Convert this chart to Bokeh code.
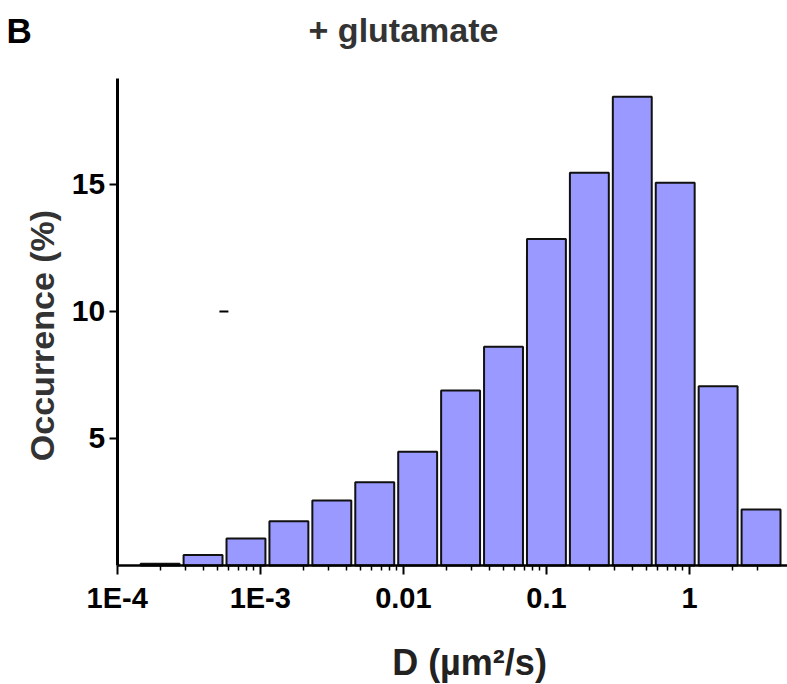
import math
from bokeh.plotting import figure
from bokeh.models import Range1d, FixedTicker, Label, ColumnDataSource
from bokeh.embed import file_html
from bokeh.resources import INLINE

# ---- data ----
bin_log10_centers = [-3.7, -3.4, -3.1, -2.8, -2.5, -2.2, -1.9, -1.6, -1.3, -1.0, -0.7, -0.4, -0.1, 0.2, 0.5]
occurrence_pct = [0.07, 0.41, 1.06, 1.74, 2.56, 3.28, 4.48, 6.89, 8.61, 12.85, 15.46, 18.45, 15.07, 7.06, 2.20]
bar_half_width_log10 = 0.136

x_major_ticks = [1e-4, 1e-3, 0.01, 0.1, 1]
x_major_labels = ["1E-4", "1E-3", "0.01", "0.1", "1"]
x_minor_mult = [2, 3, 4, 5, 6, 7, 8, 9]
y_ticks = [5, 10, 15]

artifact_x = [5.57e-4]
artifact_y = [10.0]

title_text = "+ glutamate"
panel_letter = "B"
x_label = "D (\u00b5m\u00b2/s)"
y_label = "Occurrence (%)"

# ---- geometry of the canvas ----
W, H = 787, 684
X_AXIS_MIN, X_AXIS_MAX = 1e-4, 4.84
Y_AXIS_MIN, Y_AXIS_MAX = 0.0, 19.17
# frame covers whole canvas; axes are placed at fixed locations inside it
frame_left_px, frame_bottom_px, frame_top_px = 116.7, 565.0, 78.0
px_per_decade = (W - frame_left_px) / math.log10(X_AXIS_MAX / X_AXIS_MIN)
px_per_unit = (frame_bottom_px - frame_top_px) / (Y_AXIS_MAX - Y_AXIS_MIN)
x_start = X_AXIS_MIN / 10 ** (frame_left_px / px_per_decade)
y_start = Y_AXIS_MIN - (H - frame_bottom_px) / px_per_unit
y_end = Y_AXIS_MIN + frame_bottom_px / px_per_unit

left = [10 ** (c - bar_half_width_log10) for c in bin_log10_centers]
right = [10 ** (c + bar_half_width_log10) for c in bin_log10_centers]
src = ColumnDataSource(dict(left=left, right=right, top=occurrence_pct, bottom=[0] * len(occurrence_pct)))

p = figure(width=W, height=H, x_axis_type="log",
           x_range=Range1d(x_start, X_AXIS_MAX), y_range=Range1d(y_start, y_end),
           output_backend="svg", toolbar_location=None,
           min_border=0, min_border_left=0, min_border_right=0, min_border_top=0, min_border_bottom=0)
p.outline_line_color = None
p.xgrid.visible = False
p.ygrid.visible = False
p.background_fill_color = "white"
p.border_fill_color = "white"

p.quad(left="left", right="right", top="top", bottom="bottom", source=src,
       fill_color="#9999ff", line_color="#111111", line_width=2)

p.dash(x=artifact_x, y=artifact_y, size=9, line_width=2, color="black", angle=0)

minor = []
for t in x_major_ticks:
    for m in x_minor_mult:
        v = t * m
        if v < 3.5:
            minor.append(v)

FONT = "Liberation Sans"

xa = p.xaxis[0]
xa.fixed_location = Y_AXIS_MIN
xa.bounds = (X_AXIS_MIN, X_AXIS_MAX)
xa.ticker = FixedTicker(ticks=x_major_ticks, minor_ticks=minor)
xa.major_label_overrides = {t: l for t, l in zip(x_major_ticks, x_major_labels)}
xa.axis_line_width = 2.5
xa.axis_line_color = "black"
xa.major_tick_in = 0
xa.major_tick_out = 9
xa.minor_tick_in = 0
xa.minor_tick_out = 5
xa.major_tick_line_width = 2
xa.minor_tick_line_width = 1.5
xa.major_tick_line_color = "black"
xa.minor_tick_line_color = "black"
xa.major_label_text_font = FONT
xa.major_label_text_font_style = "bold"
xa.major_label_text_font_size = "29px"
xa.major_label_text_color = "black"
xa.major_label_standoff = 7

ya = p.yaxis[0]
ya.fixed_location = X_AXIS_MIN
ya.bounds = (Y_AXIS_MIN, Y_AXIS_MAX)
ya.ticker = FixedTicker(ticks=y_ticks)
ya.axis_line_width = 3
ya.axis_line_color = "black"
ya.major_tick_in = 0
ya.major_tick_out = 8
ya.major_tick_line_width = 2
ya.minor_tick_line_color = None
ya.major_label_text_font = FONT
ya.major_label_text_font_style = "bold"
ya.major_label_text_font_size = "30px"
ya.major_label_text_color = "black"
ya.major_label_standoff = 4

# texts (screen units: x from canvas left, y from canvas bottom)
p.add_layout(Label(x=403, y=H - 29, x_units="screen", y_units="screen", text=title_text,
                   text_font=FONT, text_font_style="bold", text_font_size="34px",
                   text_color="#333333", text_align="center", text_baseline="alphabetic"))
p.add_layout(Label(x=6, y=H - 30, x_units="screen", y_units="screen", text=panel_letter,
                   text_font=FONT, text_font_style="bold", text_font_size="35px",
                   text_color="black", text_align="left", text_baseline="alphabetic"))
p.add_layout(Label(x=469, y=H - 662, x_units="screen", y_units="screen", text=x_label,
                   text_font=FONT, text_font_style="bold", text_font_size="36px",
                   text_color="#222222", text_align="center", text_baseline="alphabetic"))
p.add_layout(Label(x=41, y=H - 335, x_units="screen", y_units="screen", text=y_label,
                   angle=math.pi / 2,
                   text_font=FONT, text_font_style="bold", text_font_size="34px",
                   text_color="#333333", text_align="center", text_baseline="middle"))

open("out.html", "w").write(file_html(p, INLINE))
